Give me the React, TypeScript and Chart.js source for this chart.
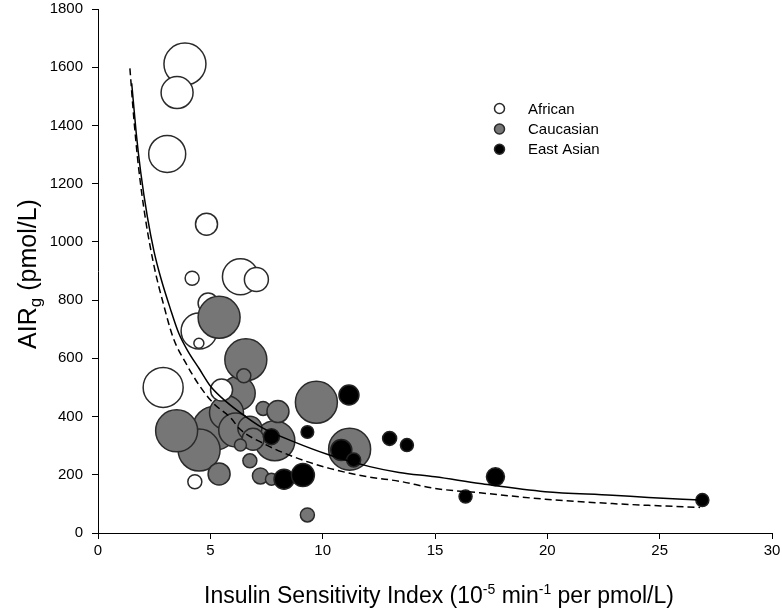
import React, { useEffect, useRef } from 'react';
import { Chart, registerables } from 'chart.js';

Chart.register(...registerables);

const FONT = "'Liberation Sans', Arial, Helvetica, sans-serif";

// ---- data ----
const africanX = [3.87, 3.52, 3.08, 4.83, 6.34, 7.05, 4.19, 4.9, 4.5, 4.49, 2.9, 4.31, 5.5];
const africanY = [1611, 1513, 1302, 1061, 880, 871, 875, 790, 694, 652, 500, 176, 491];
const africanR = [21, 16, 18.5, 11, 18, 12, 7, 10, 18, 5, 20, 7, 11];
const africanFront = [12]; // indices drawn in front of the Caucasian bubbles

const caucasianX = [5.39, 6.24, 6.58, 6.49, 5.2, 4.5, 3.5, 5.72, 7.87, 6.13, 6.76, 6.9, 6.34, 7.35, 8.01, 6.76, 5.39, 7.23, 7.72, 9.72, 11.2, 9.32];
const caucasianY = [741, 480, 595, 540, 360, 285, 351, 413, 317, 354, 360, 322, 302, 428, 417, 248, 203, 196, 185, 449, 288, 62];
const caucasianR = [21, 17, 21, 7, 22, 21, 21, 17, 20, 17, 12, 11, 6, 7, 11, 7, 11, 8, 6, 21, 21, 7];

const eastAsianX = [7.72, 9.32, 11.17, 10.83, 11.38, 8.28, 9.12, 12.98, 13.75, 16.36, 17.69, 26.9];
const eastAsianY = [331, 347, 474, 285, 251, 185, 199, 325, 302, 125, 193, 113];
const eastAsianR = [8, 6.3, 10, 10.5, 7, 10, 11.5, 7, 6.5, 6.5, 9, 6.5];

const solidX = [1.5, 1.7, 1.9, 2.2, 2.5, 2.8, 3.2, 3.6, 4.0, 4.5, 5.0, 5.5, 6.3, 7.3, 8.7, 10.3, 12.1, 13.4, 15.0, 17.0, 19.9, 22.9, 24.5, 26.8];
const solidY = [1545, 1375, 1240, 1085, 965, 875, 775, 685, 625, 565, 505, 465, 415, 362, 314, 268, 228, 208, 193, 170, 142, 130, 122, 113];

const dashedX = [1.42, 1.6, 1.8, 2.1, 2.5, 2.9, 3.35, 3.9, 4.5, 5.13, 5.9, 6.3, 7.35, 8.7, 10.3, 12.1, 13.4, 15.0, 17.0, 19.9, 22.9, 24.5, 26.8];
const dashedY = [1596, 1420, 1260, 1085, 915, 790, 670, 585, 508, 446, 396, 358, 308, 262, 222, 192, 178, 153, 138, 116, 101, 95, 88];

const xTicks = [0, 5, 10, 15, 20, 25, 30];
const yTicks = [0, 200, 400, 600, 800, 1000, 1200, 1400, 1600, 1800];

const legendLabels = ['African', 'Caucasian', 'East Asian'];
const legendColors = ['#ffffff', '#767676', '#000000'];

export default function App() {
  const ref = useRef<HTMLCanvasElement>(null);

  useEffect(() => {
    if (!ref.current) return;
    const pts = (xs: number[], ys: number[], rs: number[], keep: (i: number) => boolean) =>
      xs.map((x, i) => ({ x, y: ys[i], r: rs[i] })).filter((_, i) => keep(i));
    const line = (xs: number[], ys: number[]) => xs.map((x, i) => ({ x, y: ys[i] }));

    const border = '#2a2a2a';
    const bubbleBase = { borderColor: border, borderWidth: 1.5, hoverBorderWidth: 1.5 };

    const titlesPlugin = {
      id: 'titles',
      afterDraw(chart: any) {
        const ctx = chart.ctx as CanvasRenderingContext2D;
        ctx.save();
        ctx.fillStyle = '#000';
        ctx.textBaseline = 'alphabetic';
        ctx.textAlign = 'left';
        // X title
        const xs = [
          { t: 'Insulin Sensitivity Index (10', s: 23, dy: 0 },
          { t: '-5', s: 14, dy: -9 },
          { t: ' min', s: 23, dy: 0 },
          { t: '-1', s: 14, dy: -9 },
          { t: ' per pmol/L)', s: 23, dy: 0 },
        ];
        let total = 0;
        xs.forEach((p) => { ctx.font = `${p.s}px ${FONT}`; total += ctx.measureText(p.t).width; });
        let cx = 439 - total / 2;
        xs.forEach((p) => {
          ctx.font = `${p.s}px ${FONT}`;
          ctx.fillText(p.t, cx, 603 + p.dy);
          cx += ctx.measureText(p.t).width;
        });
        // Y title
        const ys = [
          { t: 'AIR', s: 25, dy: 0 },
          { t: 'g', s: 17, dy: 5 },
          { t: ' (pmol/L)', s: 25, dy: 0 },
        ];
        let tot2 = 0;
        ys.forEach((p) => { ctx.font = `${p.s}px ${FONT}`; tot2 += ctx.measureText(p.t).width; });
        ctx.translate(36, 274);
        ctx.rotate(-Math.PI / 2);
        let lx = -tot2 / 2;
        ys.forEach((p) => {
          ctx.font = `${p.s}px ${FONT}`;
          ctx.fillText(p.t, lx, p.dy);
          lx += ctx.measureText(p.t).width;
        });
        ctx.restore();

        // Legend
        ctx.save();
        ctx.font = `15px ${FONT}`;
        ctx.textBaseline = 'middle';
        ctx.textAlign = 'left';
        const rowsY = [108.5, 129, 149.3];
        legendLabels.forEach((lab, i) => {
          ctx.beginPath();
          ctx.arc(499.5, rowsY[i], 5, 0, Math.PI * 2);
          ctx.fillStyle = legendColors[i];
          ctx.fill();
          ctx.lineWidth = 1.5;
          ctx.strokeStyle = border;
          ctx.stroke();
          ctx.fillStyle = '#000';
          ctx.fillText(lab, 528, rowsY[i] + 1);
        });
        ctx.restore();
      },
    };

    const chart = new Chart(ref.current, {
      type: 'bubble',
      data: {
        datasets: [
          {
            type: 'line',
            label: 'fit solid',
            data: line(solidX, solidY),
            borderColor: '#000',
            borderWidth: 1.5,
            pointRadius: 0,
            cubicInterpolationMode: 'monotone',
            fill: false,
            order: 1,
          } as any,
          {
            type: 'line',
            label: 'fit dashed',
            data: line(dashedX, dashedY),
            borderColor: '#000',
            borderWidth: 1.5,
            borderDash: [7, 4],
            pointRadius: 0,
            cubicInterpolationMode: 'monotone',
            fill: false,
            order: 2,
          } as any,
          {
            label: legendLabels[2],
            data: pts(eastAsianX, eastAsianY, eastAsianR, () => true),
            backgroundColor: legendColors[2],
            ...bubbleBase,
            borderColor: '#222',
            order: 3,
          },
          {
            label: legendLabels[0],
            data: pts(africanX, africanY, africanR, (i) => africanFront.includes(i)),
            backgroundColor: legendColors[0],
            ...bubbleBase,
            order: 4,
          },
          {
            label: legendLabels[1],
            data: pts(caucasianX, caucasianY, caucasianR, () => true),
            backgroundColor: legendColors[1],
            ...bubbleBase,
            order: 5,
          },
          {
            label: legendLabels[0],
            data: pts(africanX, africanY, africanR, (i) => !africanFront.includes(i)),
            backgroundColor: legendColors[0],
            ...bubbleBase,
            order: 6,
          },
        ],
      },
      options: {
        responsive: false,
        animation: false,
        events: [],
        clip: false,
        layout: { autoPadding: false, padding: { top: 9, right: 10, left: 0, bottom: 0 } },
        plugins: { legend: { display: false }, tooltip: { enabled: false } },
        scales: {
          x: {
            type: 'linear',
            min: 0,
            max: 30,
            afterFit: (s: any) => { s.height = 78; s.paddingLeft = 0; s.paddingRight = 0; },
            afterBuildTicks: (s: any) => { s.ticks = xTicks.map((v) => ({ value: v })); },
            ticks: { color: '#000', font: { family: FONT, size: 15 }, padding: 3, maxRotation: 0, callback: (v: any) => String(v) },
            grid: { drawOnChartArea: false, drawTicks: true, tickLength: 6, color: '#000', lineWidth: 1 },
            border: { display: true, color: '#000', width: 1 },
          },
          y: {
            type: 'linear',
            min: 0,
            max: 1800,
            afterFit: (s: any) => { s.width = 98; s.paddingTop = 0; s.paddingBottom = 0; },
            afterBuildTicks: (s: any) => { s.ticks = yTicks.map((v) => ({ value: v })); },
            ticks: { color: '#000', font: { family: FONT, size: 15 }, padding: 9, callback: (v: any) => String(v) },
            grid: { drawOnChartArea: false, drawTicks: true, tickLength: 6, color: '#000', lineWidth: 1 },
            border: { display: true, color: '#000', width: 1 },
          },
        },
      } as any,
      plugins: [titlesPlugin],
    });
    return () => chart.destroy();
  }, []);

  return (
    <div style={{ position: 'absolute', left: 0, top: 0, width: 782, height: 611, background: '#fff' }}>
      <canvas ref={ref} width={782} height={611} style={{ display: 'block' }} />
    </div>
  );
}
